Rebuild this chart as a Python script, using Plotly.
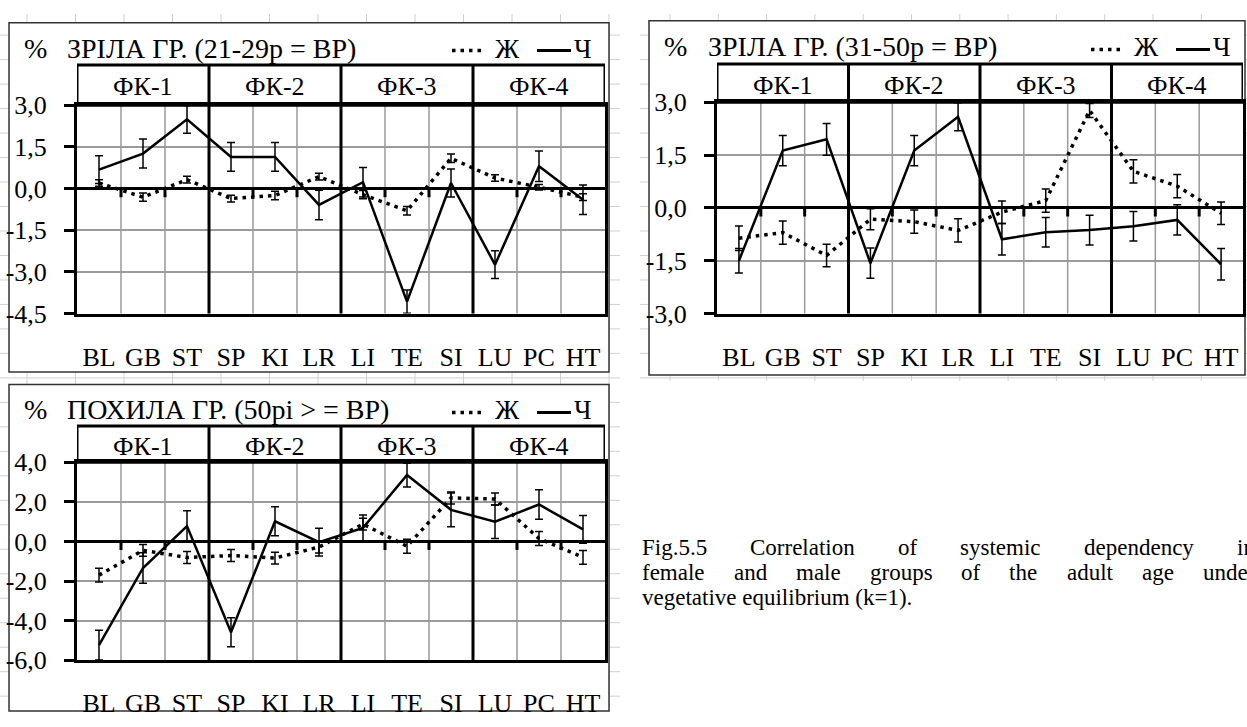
import plotly.graph_objects as go

W, H = 1247, 727

# ---------------- data ----------------
cats = ["BL", "GB", "ST", "SP", "KI", "LR", "LI", "TE", "SI", "LU", "PC", "HT"]
groups = ["ФК-1", "ФК-2", "ФК-3", "ФК-4"]

# Panel 1: ЗРІЛА ГР. (21-29р = ВР)
male_1 = [0.68, 1.26, 2.49, 1.14, 1.14, -0.59, 0.23, -4.07, 0.20, -2.74, 0.80, -0.40]
male_1_err = [0.50, 0.52, 0.50, 0.52, 0.52, 0.53, 0.53, 0.42, 0.50, 0.50, 0.55, 0.53]
fem_1 = [0.20, -0.31, 0.32, -0.36, -0.25, 0.43, -0.22, -0.80, 1.09, 0.38, 0.05, -0.31]
fem_1_err = [0.12, 0.15, 0.12, 0.12, 0.15, 0.12, 0.15, 0.15, 0.15, 0.12, 0.10, 0.12]

# Panel 2: ЗРІЛА ГР. (31-50р = ВР)
male_2 = [-1.50, 1.63, 1.95, -1.57, 1.63, 2.59, -0.89, -0.69, -0.63, -0.52, -0.34, -1.60]
male_2_err = [0.35, 0.43, 0.45, 0.43, 0.43, 0.40, 0.45, 0.42, 0.42, 0.42, 0.43, 0.45]
fem_2 = [-0.86, -0.70, -1.35, -0.32, -0.39, -0.64, -0.12, 0.21, 2.77, 1.04, 0.62, -0.15]
fem_2_err = [0.35, 0.33, 0.32, 0.30, 0.33, 0.33, 0.32, 0.33, 0.20, 0.33, 0.33, 0.32]

# Panel 3: ПОХИЛА ГР. (50рі >= ВР)
male_3 = [-5.24, -1.34, 0.78, -4.59, 1.02, -0.03, 0.69, 3.36, 1.60, 1.00, 1.87, 0.61]
male_3_err = [0.75, 0.77, 0.77, 0.73, 0.73, 0.70, 0.65, 0.60, 0.85, 0.85, 0.74, 0.70]
fem_3 = [-1.70, -0.45, -0.81, -0.71, -0.84, -0.28, 0.88, -0.24, 2.20, 2.15, 0.15, -0.80]
fem_3_err = [0.35, 0.30, 0.30, 0.30, 0.30, 0.30, 0.30, 0.35, 0.30, 0.30, 0.35, 0.35]

ticks_1 = [3.0, 1.5, 0.0, -1.5, -3.0, -4.5]
ticks_2 = [3.0, 1.5, 0.0, -1.5, -3.0]
ticks_3 = [4.0, 2.0, 0.0, -2.0, -4.0, -6.0]

titles = ["ЗРІЛА ГР. (21-29р = ВР)", "ЗРІЛА ГР. (31-50р = ВР)", "ПОХИЛА ГР. (50рі > = ВР)"]
legend_f, legend_m = "Ж", "Ч"
caption_lines = [
    "Fig.5.5 Correlation of systemic dependency in",
    "female and male groups of the adult age under",
    "vegetative equilibrium (k=1).",
]

# ---------------- layout geometry (pixels) ----------------
panels = [
    dict(male=male_1, merr=male_1_err, fem=fem_1, ferr=fem_1_err, ticks=ticks_1,
         xd=(77, 605), yd=(95, 312), yr=(-4.5, 3.0), hdr=53, box=(9, 9, 609, 373),
         title=titles[0], ty=36, pctx=22, tx=65, legx=452, legy=38),
    dict(male=male_2, merr=male_2_err, fem=fem_2, ferr=fem_2_err, ticks=ticks_2,
         xd=(717, 1243), yd=(92, 312), yr=(-3.0, 3.0), hdr=52, box=(649, 7, 1245, 376),
         title=titles[1], ty=34, pctx=662, tx=706, legx=1091, legy=37),
    dict(male=male_3, merr=male_3_err, fem=fem_3, ferr=fem_3_err, ticks=ticks_3,
         xd=(77, 605), yd=(467, 673), yr=(-6.0, 4.0), hdr=429, box=(9, 386, 609, 726),
         title=titles[2], ty=412, pctx=22, tx=65, legx=452, legy=415),
]

FONT = "Liberation Serif"
def fx(p): return p / W
def fy(p): return 1 - p / H

fig = go.Figure()
shapes, annots = [], []
layout = {}
xs = list(range(len(cats)))

# faint spreadsheet cell grid visible around the pasted chart images
sheet_regions = [  # (x_left, x_right, y_top, y_bottom, first_col, col_w, first_row, row_h)
    (0, 620, 0, 727, 27, 48.5, 22, 25.5),
    (640, 1247, 0, 382, 670, 48.3, 22, 25.5),
]
for (gx0, gx1, gy0, gy1, c0, cw, r0, rh) in sheet_regions:
    c = c0
    while c < gx1:
        shapes.append(dict(type="line", xref="paper", yref="paper", x0=fx(c), x1=fx(c),
                           y0=fy(gy1), y1=fy(gy0), line=dict(color="#d0d0d0", width=1),
                           layer="below"))
        c += cw
    r = r0
    while r < gy1:
        shapes.append(dict(type="line", xref="paper", yref="paper", x0=fx(gx0), x1=fx(gx1),
                           y0=fy(r), y1=fy(r), line=dict(color="#d0d0d0", width=1),
                           layer="below"))
        r += rh

for i, P in enumerate(panels):
    k = "" if i == 0 else str(i + 1)
    xa, ya = "x" + k, "y" + k
    fig.add_trace(go.Scatter(
        x=xs, y=P["fem"], mode="lines", xaxis=xa, yaxis=ya,
        line=dict(color="black", width=3.5, dash="3.5px,5px"),
        error_y=dict(type="data", array=P["ferr"], color="black", thickness=1.5, width=4)))
    fig.add_trace(go.Scatter(
        x=xs, y=P["male"], mode="lines", xaxis=xa, yaxis=ya,
        line=dict(color="black", width=2.5),
        error_y=dict(type="data", array=P["merr"], color="black", thickness=1.5, width=4)))

    x0, x1 = P["xd"]; yt, yb = P["yd"]
    ph = yb - yt
    layout["xaxis" + k] = dict(
        domain=[fx(x0), fx(x1)], range=[-0.5, len(cats) - 0.5], anchor=ya,
        tickvals=xs, ticktext=cats, showgrid=False, zeroline=False,
        showline=True, linewidth=3, linecolor="black", mirror=True, ticks="",
        ticklabelstandoff=18,
        tickfont=dict(family=FONT, size=26, color="black"), fixedrange=True)
    layout["yaxis" + k] = dict(
        domain=[fy(yb), fy(yt)], range=list(P["yr"]), anchor=xa,
        tickvals=P["ticks"], ticktext=[f"{v:.1f}".replace(".", ",") for v in P["ticks"]],
        showgrid=True, gridcolor="#9a9a9a", gridwidth=1.5,
        zeroline=True, zerolinecolor="black", zerolinewidth=3,
        showline=True, linewidth=3, linecolor="black", mirror=True,
        ticks="outside", ticklen=10, tickwidth=3, tickcolor="black",
        ticklabelstandoff=12,
        tickfont=dict(family=FONT, size=26, color="black"), fixedrange=True)

    # outer box (white, hides the sheet grid)
    bx0, by0, bx1, by1 = P["box"]
    shapes.append(dict(type="rect", xref="paper", yref="paper", x0=fx(bx0), x1=fx(bx1),
                       y0=fy(by1), y1=fy(by0), fillcolor="white",
                       line=dict(color="#333333", width=1.5), layer="below"))

    hfrac = (yb - P["hdr"]) / ph
    units_per_px = (P["yr"][1] - P["yr"][0]) / ph
    for b in range(len(cats) - 1):
        bx = b + 0.5
        if (b + 1) % 3 == 0:
            shapes.append(dict(type="line", xref=xa, yref=ya + " domain", x0=bx, x1=bx,
                               y0=0, y1=hfrac, line=dict(color="black", width=3), layer="above"))
        else:
            shapes.append(dict(type="line", xref=xa, yref=ya + " domain", x0=bx, x1=bx,
                               y0=0, y1=1, line=dict(color="#9a9a9a", width=1.5), layer="below"))
            shapes.append(dict(type="line", xref=xa, yref=ya, x0=bx, x1=bx,
                               y0=0, y1=-9 * units_per_px, line=dict(color="black", width=3),
                               layer="above"))
    # header band
    shapes.append(dict(type="rect", xref=xa, yref=ya + " domain", x0=-0.5, x1=len(cats) - 0.5,
                       y0=1, y1=hfrac, line=dict(color="black", width=3), layer="above"))
    hmid = (yt + P["hdr"]) / 2 + 2
    for g, name in enumerate(groups):
        annots.append(dict(text=name, xref=xa, yref="paper", x=3 * g + 1,
                           y=fy(hmid), showarrow=False, xanchor="center", yanchor="middle",
                           font=dict(family=FONT, size=26, color="black")))
    # title
    annots.append(dict(text="%", xref="paper", yref="paper", x=fx(P["pctx"]), y=fy(P["ty"]),
                       showarrow=False, xanchor="left", yanchor="middle",
                       font=dict(family=FONT, size=28, color="black")))
    annots.append(dict(text=P["title"], xref="paper", yref="paper", x=fx(P["tx"]), y=fy(P["ty"]),
                       showarrow=False, xanchor="left", yanchor="middle",
                       font=dict(family=FONT, size=28, color="black")))
    # legend
    lx, ly = P["legx"], P["legy"]
    shapes.append(dict(type="line", xref="paper", yref="paper", x0=fx(lx), x1=fx(lx + 31),
                       y0=fy(ly), y1=fy(ly), line=dict(color="black", width=3.5, dash="3.5px,5px")))
    annots.append(dict(text=legend_f, xref="paper", yref="paper", x=fx(lx + 41), y=fy(P["ty"]),
                       showarrow=False, xanchor="left", yanchor="middle",
                       font=dict(family=FONT, size=27, color="black")))
    shapes.append(dict(type="line", xref="paper", yref="paper", x0=fx(lx + 85), x1=fx(lx + 119),
                       y0=fy(ly), y1=fy(ly), line=dict(color="black", width=3)))
    annots.append(dict(text=legend_m, xref="paper", yref="paper", x=fx(lx + 120), y=fy(P["ty"]),
                       showarrow=False, xanchor="left", yanchor="middle",
                       font=dict(family=FONT, size=27, color="black")))

# ---------------- caption (justified lines) ----------------
TW = {" ": 250, ".": 250, "(": 333, ")": 333, "=": 564, "F": 556, "C": 667}
for ch in "0123456789": TW[ch] = 500
TW.update({"a": 444, "b": 500, "c": 444, "d": 500, "e": 444, "f": 333, "g": 500, "h": 500,
           "i": 278, "j": 278, "k": 500, "l": 278, "m": 778, "n": 500, "o": 500, "p": 500,
           "q": 500, "r": 333, "s": 389, "t": 278, "u": 500, "v": 500, "w": 722, "x": 500,
           "y": 500, "z": 444})
CFS = 23
cap_x0, cap_x1 = 640, 1253
cap_y = [556, 582, 608]

def wwidth(w):
    return sum(TW.get(c, 500) for c in w) * CFS / 1000

for li, line in enumerate(caption_lines):
    if li < 2:
        words = line.split(" ")
        tot = sum(wwidth(w) for w in words)
        gap = (cap_x1 - cap_x0 - tot) / (len(words) - 1)
        xpos = cap_x0
        for w in words:
            annots.append(dict(text=w, xref="paper", yref="paper", x=fx(xpos), y=fy(cap_y[li]),
                               showarrow=False, xanchor="left", yanchor="middle",
                               font=dict(family=FONT, size=CFS, color="black")))
            xpos += wwidth(w) + gap
    else:
        annots.append(dict(text=line, xref="paper", yref="paper", x=fx(cap_x0), y=fy(cap_y[li]),
                           showarrow=False, xanchor="left", yanchor="middle",
                           font=dict(family=FONT, size=CFS, color="black")))

fig.update_layout(
    width=W, height=H, margin=dict(l=0, r=0, t=0, b=0),
    paper_bgcolor="white", plot_bgcolor="white", showlegend=False,
    shapes=shapes, annotations=annots, **layout)

fig.write_html("out.html")
